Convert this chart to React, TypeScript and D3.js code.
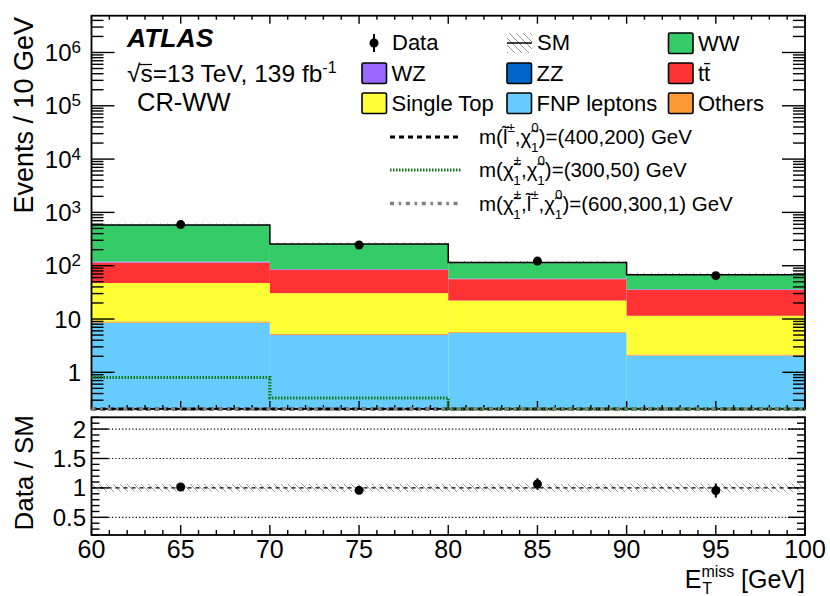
import React from 'react';
import * as d3 from 'd3';

const W = 830;
const H = 596;
const FONT = "'Liberation Sans', Arial, Helvetica, sans-serif";

// ---------- data ----------
const binEdges = [60, 70, 80, 90, 100];
const dataCounts = [590, 245, 122, 65];
const fnpLeptons = [8.5, 5.0, 5.5, 2.05];
const others = [0.5, 0.3, 0.2, 0.1];
const singleTop = [38.3, 25.3, 16.5, 9.35];
const ttbar = [67.2, 52.7, 33.6, 23.6];
const zz = [0.3, 0.2, 0.1, 0.1];
const wz = [5.0, 2.6, 1.5, 1.0];
const ww = [461, 169.4, 57, 31.8];
const smRelUnc = [0.065, 0.07, 0.07, 0.075];
const sigSlepton = [0.05, 0.04, 0.03, 0.03];
const sigChargino = [0.8, 0.33, 0.15, 0.1];
const sigChaSlep = [0.02, 0.02, 0.03, 0.02];
const xTickLabels = [60, 65, 70, 75, 80, 85, 90, 95, 100];
const ratioTickLabels = [0.5, 1, 1.5, 2];
const ratioGrid = [0.5, 1.5, 2];
const yDecades = [0, 1, 2, 3, 4, 5, 6];

const stackKeys = ['FNP', 'Others', 'SingleTop', 'ttbar', 'ZZ', 'WZ', 'WW'];
const stackSeries: Record<string, number[]> = {
  FNP: fnpLeptons, Others: others, SingleTop: singleTop, ttbar: ttbar, ZZ: zz, WZ: wz, WW: ww,
};
const stackColors: Record<string, string> = {
  FNP: '#66ccff', Others: '#ff9933', SingleTop: '#ffff33', ttbar: '#ff3333', ZZ: '#0066cc', WZ: '#9966ff', WW: '#33cc66',
};

// ---------- layout ----------
const L = 91.5, R = 805;
const T1 = 15.7, B1 = 409;
const T2 = 417.3, B2 = 535;

const x = d3.scaleLinear().domain([60, 100]).range([L, R]);
const y = d3.scaleLog().domain([0.205, 4.9e6]).range([B1, T1]);
const yr = d3.scaleLinear().domain([0.2, 2.2]).range([B2, T2]);
const yMin = y.domain()[0];
const yc = (v: number) => y(Math.max(v, yMin));

const rows = dataCounts.map((_, i) => {
  const r: Record<string, number> = {};
  stackKeys.forEach(k => (r[k] = stackSeries[k][i]));
  return r;
});
const stacked = d3.stack<Record<string, number>>().keys(stackKeys)(rows);
const total = dataCounts.map((_, i) => d3.sum(stackKeys, k => stackSeries[k][i]));

function stepPath(vals: number[]) {
  const pts: [number, number][] = [];
  vals.forEach((v, i) => {
    pts.push([x(binEdges[i]), yc(v)]);
    pts.push([x(binEdges[i + 1]), yc(v)]);
  });
  return d3.line()(pts) || '';
}

type Part = string | { base: string; sup?: string; sub?: string };
function scripted(parts: Part[], fs: number) {
  const out: any[] = [];
  let pend = 0;
  let pendDx = 0;
  let k = 0;
  const sfs = fs * 0.65;
  for (const p of parts) {
    if (typeof p === 'string') {
      out.push(<tspan key={k++} dy={pend || undefined} dx={pendDx || undefined}>{p}</tspan>);
      pend = 0; pendDx = 0;
    } else {
      out.push(<tspan key={k++} dy={pend || undefined} dx={pendDx || undefined}>{p.base}</tspan>);
      pend = 0; pendDx = 0;
      let cur = 0;
      let supW = 0;
      if (p.sup) {
        const dy = -0.58 * fs;
        out.push(<tspan key={k++} fontSize={sfs} dy={dy}>{p.sup}</tspan>);
        cur = dy;
        supW = p.sup.length * 0.58 * sfs;
      }
      if (p.sub) {
        const target = 0.4 * fs;
        const subW = p.sub.length * 0.556 * sfs;
        out.push(<tspan key={k++} fontSize={sfs} dx={p.sup ? -supW : undefined} dy={target - cur}>{p.sub}</tspan>);
        cur = target;
        if (p.sup && supW > subW) pendDx = supW - subW;
      }
      pend = -cur;
    }
  }
  return out;
}

const CHI = '\u03C7\u0303';
const LT = 'l\u0303';

const legendBoxes = [
  { key: 'WW', label: 'WW', col: 2, row: 0 },
  { key: 'WZ', label: 'WZ', col: 0, row: 1 },
  { key: 'ZZ', label: 'ZZ', col: 1, row: 1 },
  { key: 'ttbar', label: 'tt\u0304', col: 2, row: 1 },
  { key: 'SingleTop', label: 'Single Top', col: 0, row: 2 },
  { key: 'FNP', label: 'FNP leptons', col: 1, row: 2 },
  { key: 'Others', label: 'Others', col: 2, row: 2 },
];
const legColX = [362, 507, 668.5];
const legRowY = [43, 73, 103];

const sigLegend: { parts: Part[]; stroke: string; dash: string; width: number; vals: number[] }[] = [
  {
    parts: ['m(', { base: LT, sup: '\u00B1' }, ',', { base: CHI, sup: '0', sub: '1' }, ')=(400,200) GeV'],
    stroke: '#000000', dash: '5,4', width: 3.2, vals: sigSlepton,
  },
  {
    parts: ['m(', { base: CHI, sup: '\u00B1', sub: '1' }, ',', { base: CHI, sup: '0', sub: '1' }, ')=(300,50) GeV'],
    stroke: '#117711', dash: '1.5,1.5', width: 3.2, vals: sigChargino,
  },
  {
    parts: ['m(', { base: CHI, sup: '\u00B1', sub: '1' }, ',', { base: LT, sup: '\u00B1' }, ',', { base: CHI, sup: '0', sub: '1' }, ')=(600,300,1) GeV'],
    stroke: '#808080', dash: '4,4.7,2.5,4.7', width: 3.6, vals: sigChaSlep,
  },
];
const sigRowY = [137, 170, 203.5];

export default function App() {
  const xMajor = d3.range(60, 100.1, 5);
  const xMinor = d3.range(60, 100.1, 1).filter(v => v % 5 !== 0);
  const yMajorVals = yDecades.map(d => Math.pow(10, d));
  const yMinorVals: number[] = [];
  for (let d = -1; d <= 6; d++) for (let k = 2; k <= 9; k++) {
    const v = k * Math.pow(10, d);
    if (v >= yMin && v <= y.domain()[1]) yMinorVals.push(v);
  }
  const rMajor = [0.5, 1, 1.5, 2];
  const rMinor = d3.range(0.2, 2.21, 0.1).map(v => Math.round(v * 10) / 10).filter(v => Math.abs(v * 2 - Math.round(v * 2)) > 1e-6);

  const tk = { stroke: '#000', strokeWidth: 1.4 };

  return (
    <svg width={W} height={H} style={{ position: 'absolute', left: 0, top: 0, background: '#fff' }} fontFamily={FONT}>
      <defs>
        <pattern id="hatch" patternUnits="userSpaceOnUse" width={7} height={7}>
          <line x1={0} y1={0} x2={7} y2={7} stroke="#999" strokeWidth={1} />
        </pattern>
        <clipPath id="mainClip">
          <rect x={L} y={T1} width={R - L} height={B1 - T1} />
        </clipPath>
        <clipPath id="ratioClip">
          <rect x={L} y={T2} width={R - L} height={B2 - T2} />
        </clipPath>
      </defs>
      <rect x={0} y={0} width={W} height={H} fill="#fff" />

      {/* ---------- main panel ---------- */}
      <g clipPath="url(#mainClip)">
        {stacked.map(s => (
          <g key={s.key}>
            {s.map((d, i) => (
              <rect key={i} x={x(binEdges[i])} width={x(binEdges[i + 1]) - x(binEdges[i])}
                y={yc(d[1])} height={Math.max(0, yc(d[0]) - yc(d[1]))} fill={stackColors[s.key]} />
            ))}
          </g>
        ))}
        {total.map((t, i) => (
          <rect key={'u' + i} x={x(binEdges[i])} width={x(binEdges[i + 1]) - x(binEdges[i])}
            y={yc(t * (1 + smRelUnc[i]))} height={yc(t * (1 - smRelUnc[i])) - yc(t * (1 + smRelUnc[i]))} fill="url(#hatch)" />
        ))}
      </g>

      {/* main ticks */}
      <g>
        {xMajor.map(v => (
          <g key={'xm' + v}>
            <line x1={x(v)} x2={x(v)} y1={B1} y2={B1 - 8} {...tk} />
            <line x1={x(v)} x2={x(v)} y1={T1} y2={T1 + 8} {...tk} />
          </g>
        ))}
        {xMinor.map(v => (
          <g key={'xn' + v}>
            <line x1={x(v)} x2={x(v)} y1={B1} y2={B1 - 4} {...tk} />
            <line x1={x(v)} x2={x(v)} y1={T1} y2={T1 + 4} {...tk} />
          </g>
        ))}
        {yMajorVals.map(v => (
          <g key={'ym' + v}>
            <line x1={L} x2={L + 23} y1={y(v)} y2={y(v)} {...tk} />
            <line x1={R} x2={R - 23} y1={y(v)} y2={y(v)} {...tk} />
          </g>
        ))}
        {yMinorVals.map(v => (
          <g key={'yn' + v}>
            <line x1={L} x2={L + 12} y1={y(v)} y2={y(v)} {...tk} />
            <line x1={R} x2={R - 12} y1={y(v)} y2={y(v)} {...tk} />
          </g>
        ))}
      </g>

      <rect x={L} y={T1} width={R - L} height={B1 - T1} fill="none" stroke="#000" strokeWidth={1.8} />

      {/* SM total line */}
      <path d={stepPath(total)} fill="none" stroke="#000" strokeWidth={1.5} clipPath="url(#mainClip)" />

      {/* signals */}
      {sigLegend.map((s, i) => (
        <path key={'sig' + i} d={stepPath(s.vals)} fill="none" stroke={s.stroke} strokeWidth={s.width} strokeDasharray={s.dash} />
      ))}

      {/* data */}
      {dataCounts.map((n, i) => {
        const cx = x((binEdges[i] + binEdges[i + 1]) / 2);
        const e = Math.sqrt(n);
        return (
          <g key={'d' + i}>
            <line x1={cx} x2={cx} y1={yc(n + e)} y2={yc(n - e)} stroke="#000" strokeWidth={2} />
            <circle cx={cx} cy={y(n)} r={4.5} fill="#000" />
          </g>
        );
      })}

      {/* y labels main */}
      {yDecades.map(d => (
        <text key={'yl' + d} x={81} y={y(Math.pow(10, d)) + 8.5} textAnchor="end" fontSize={24}>
          {d === 0 ? '1' : d === 1 ? '10' : <>10<tspan dy={-8} fontSize={17}>{d}</tspan></>}
        </text>
      ))}
      <text transform={`translate(33,17) rotate(-90)`} textAnchor="end" fontSize={27}>Events / 10 GeV</text>

      {/* ATLAS label */}
      <text x={127} y={47} fontSize={26.5} fontWeight="bold" fontStyle="italic">ATLAS</text>
      <text x={127} y={82} fontSize={24.5}>{'\u221As=13 TeV, 139 fb'}<tspan dy={-9} fontSize={16}>-1</tspan></text>
      <line x1={139} x2={152} y1={64.5} y2={64.5} stroke="#000" strokeWidth={1.2} />
      <text x={137} y={111} fontSize={25.5}>CR-WW</text>

      {/* legend */}
      <g fontSize={22}>
        <line x1={374} x2={374} y1={34} y2={52} stroke="#000" strokeWidth={2} />
        <circle cx={374} cy={43} r={4.5} fill="#000" />
        <text x={392} y={50}>Data</text>
        <rect x={507} y={33} width={25} height={20} fill="url(#hatch)" />
        <line x1={507} x2={532} y1={43} y2={43} stroke="#000" strokeWidth={1.5} />
        <text x={537} y={50}>SM</text>
        {legendBoxes.map(b => (
          <g key={b.key}>
            <rect x={legColX[b.col]} y={legRowY[b.row] - 10} width={24.5} height={20.5} fill={stackColors[b.key]} stroke="#000" strokeWidth={1.6} rx={1.5} />
            <text x={legColX[b.col] + 29.5} y={legRowY[b.row] + 7.5}>{b.label}</text>
          </g>
        ))}
      </g>
      {sigLegend.map((s, i) => (
        <g key={'sl' + i}>
          <line x1={390} x2={462} y1={sigRowY[i]} y2={sigRowY[i]} stroke={s.stroke} strokeWidth={s.width} strokeDasharray={s.dash} />
          <text x={479} y={sigRowY[i] + 7} fontSize={20.5}>{scripted(s.parts, 20.5)}</text>
        </g>
      ))}

      {/* ---------- ratio panel ---------- */}
      <g clipPath="url(#ratioClip)">
        {ratioGrid.map(v => (
          <line key={'g' + v} x1={L} x2={R} y1={yr(v)} y2={yr(v)} stroke="#000" strokeWidth={1.2} strokeDasharray="1.2,2.2" />
        ))}
        {total.map((t, i) => (
          <rect key={'ru' + i} x={x(binEdges[i])} width={x(binEdges[i + 1]) - x(binEdges[i])}
            y={yr(1 + smRelUnc[i])} height={yr(1 - smRelUnc[i]) - yr(1 + smRelUnc[i])} fill="url(#hatch)" />
        ))}
        <line x1={L} x2={R} y1={yr(1)} y2={yr(1)} stroke="#000" strokeWidth={1.3} strokeDasharray="4,4" />
        {dataCounts.map((n, i) => {
          const cx = x((binEdges[i] + binEdges[i + 1]) / 2);
          const r = n / total[i];
          const e = Math.sqrt(n) / total[i];
          return (
            <g key={'rd' + i}>
              <line x1={cx} x2={cx} y1={yr(r + e)} y2={yr(r - e)} stroke="#000" strokeWidth={2} />
              <circle cx={cx} cy={yr(r)} r={4.5} fill="#000" />
            </g>
          );
        })}
      </g>
      <g>
        {xMajor.map(v => (
          <line key={'rxm' + v} x1={x(v)} x2={x(v)} y1={B2} y2={B2 - 10} {...tk} />
        ))}
        {xMinor.map(v => (
          <line key={'rxn' + v} x1={x(v)} x2={x(v)} y1={B2} y2={B2 - 5} {...tk} />
        ))}
        {rMajor.map(v => (
          <g key={'rym' + v}>
            <line x1={L} x2={L + 17} y1={yr(v)} y2={yr(v)} {...tk} />
            <line x1={R} x2={R - 17} y1={yr(v)} y2={yr(v)} {...tk} />
          </g>
        ))}
        {rMinor.map(v => (
          <g key={'ryn' + v}>
            <line x1={L} x2={L + 8} y1={yr(v)} y2={yr(v)} {...tk} />
            <line x1={R} x2={R - 8} y1={yr(v)} y2={yr(v)} {...tk} />
          </g>
        ))}
      </g>
      <rect x={L} y={T2} width={R - L} height={B2 - T2} fill="none" stroke="#000" strokeWidth={1.8} />

      {ratioTickLabels.map(v => (
        <text key={'rl' + v} x={86} y={yr(v) + 8.5} textAnchor="end" fontSize={24}>{String(v)}</text>
      ))}
      {xTickLabels.map(v => (
        <text key={'xl' + v} x={x(v)} y={558} textAnchor="middle" fontSize={25}>{v}</text>
      ))}
      <text transform={`translate(33,415) rotate(-90)`} textAnchor="end" fontSize={26}>Data / SM</text>
      <text x={805} y={588} textAnchor="end" fontSize={25}>
        E<tspan dy={-11} fontSize={16}>miss</tspan><tspan dx={-32} dy={17} fontSize={16}>T</tspan><tspan dx={22} dy={-6}> [GeV]</tspan>
      </text>
    </svg>
  );
}
